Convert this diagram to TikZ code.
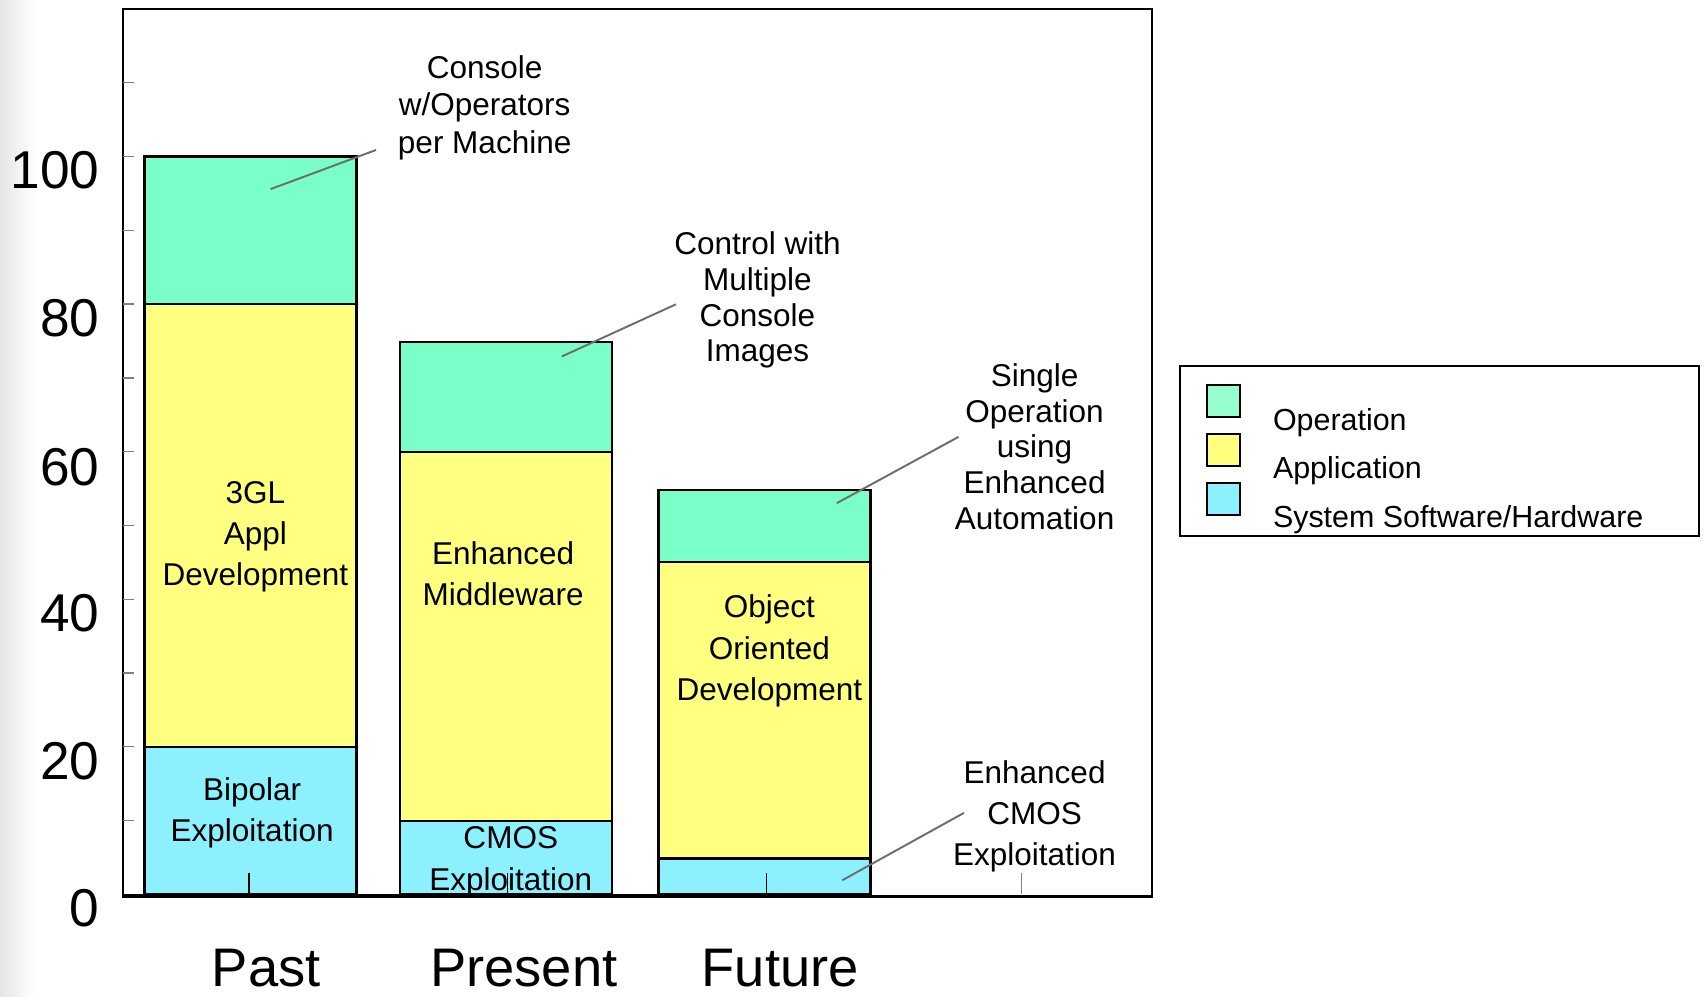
\documentclass[tikz,border=0pt]{standalone}
\usepackage{fontspec}
\setmainfont{Liberation Sans}
\definecolor{opgreen}{RGB}{122,255,200}
\definecolor{appyellow}{RGB}{255,255,128}
\definecolor{sysblue}{RGB}{140,240,255}
\definecolor{leggreen}{RGB}{150,255,205}
\definecolor{callgray}{RGB}{110,110,110}
\begin{document}
\begin{tikzpicture}[x=0.5pt,y=-0.5pt,
  barseg/.style={draw=black,line width=1pt},
  bartext/.style={font=\fontsize{14.5}{19}\selectfont,align=center},
  calltext/.style={font=\fontsize{14.5}{16.5}\selectfont,align=center},
  callline/.style={draw=callgray,line width=0.9pt},
  ylab/.style={font=\fontsize{24.5}{28}\selectfont,anchor=east,inner sep=0pt},
  catlab/.style={font=\fontsize{25}{28}\selectfont,inner sep=0pt},
  tickline/.style={draw=gray,line width=0.6pt},
  cattick/.style={draw=black,line width=0.6pt},
  legtext/.style={font=\fontsize{14}{16}\selectfont,anchor=west,inner sep=0pt},
  legsq/.style={draw=black,line width=0.9pt}]

\useasboundingbox (0,0) rectangle (1568,917);
\fill[white] (0,0) rectangle (1568,917);
\shade[left color=black!10, right color=white] (0,0) rectangle (32,917);

% ---- bars: Past
\fill[sysblue]   (133,823) rectangle (328,687.2);
\fill[appyellow] (133,687.2) rectangle (328,279.8);
\fill[opgreen]   (133,279.8) rectangle (328,144);
\draw[barseg] (133,823) rectangle (328,144);
\draw[barseg] (133,687.2) -- (328,687.2);
\draw[barseg] (133,279.8) -- (328,279.8);
% ---- bars: Present
\fill[sysblue]   (368,823) rectangle (563,755.1);
\fill[appyellow] (368,755.1) rectangle (563,415.6);
\fill[opgreen]   (368,415.6) rectangle (563,314.5);
\draw[barseg] (368,823) rectangle (563,314.5);
\draw[barseg] (368,755.1) -- (563,755.1);
\draw[barseg] (368,415.6) -- (563,415.6);
% ---- bars: Future
\fill[sysblue]   (606,823) rectangle (801,790);
\fill[appyellow] (606,790) rectangle (801,517.5);
\fill[opgreen]   (606,517.5) rectangle (801,451);
\draw[barseg] (606,823) rectangle (801,451);
\draw[barseg] (606,790) -- (801,790);
\draw[barseg] (606,517.5) -- (801,517.5);

% ---- frame and ticks
\draw[line width=1pt] (113,8) rectangle (1060,825);
\draw[line width=0.8pt] (113,823) -- (801,823);
\foreach \v in {10,20,...,110}
  \draw[tickline] (113,{823-6.79*\v}) -- (123,{823-6.79*\v});
\draw[cattick] (229,803) -- (229,823);
\draw[cattick] (467,803) -- (467,823);
\draw[cattick] (705,803) -- (705,823);
\draw[tickline] (940,803) -- (940,823);

% ---- y labels
\node[ylab] (y100) at (92,157) {100};
\node[ylab] (y80)  at (92,293) {80};
\node[ylab] (y60)  at (92,430) {60};
\node[ylab] (y40)  at (92,564) {40};
\node[ylab] (y20)  at (92,700) {20};
\node[ylab] (y0)   at (92,836) {0};

% ---- category labels
\node[catlab] (past)    at (245,891) {Past};
\node[catlab] (present) at (482,891) {Present};
\node[catlab] (future)  at (718,891) {Future};

% ---- bar texts
\node[bartext] (gl)   at (235,494) {3GL\\Appl\\Development};
\node[bartext] (bip)  at (232,748) {Bipolar\\Exploitation};
\node[bartext] (mid)  at (463,528) {Enhanced\\Middleware};
\node[bartext] (cmos) at (470,793) {CMOS\\Exploitation};
\node[bartext] (ood)  at (708,599) {Object\\Oriented\\Development};

% ---- callouts
\node[calltext,font=\fontsize{14.5}{17.3}\selectfont] (c1) at (446,99)  {Console\\w/Operators\\per Machine};
\node[calltext] (c2) at (697,276) {Control with\\Multiple\\Console\\Images};
\node[calltext] (c3) at (952,411) {Single\\Operation\\using\\Enhanced\\Automation};
\node[bartext]  (c4) at (952,751) {Enhanced\\CMOS\\Exploitation};

\coordinate (p1a) at (249,174); \coordinate (p1b) at (346,138);
\coordinate (p2a) at (517,328); \coordinate (p2b) at (622,280);
\coordinate (p3a) at (770,463); \coordinate (p3b) at (882,402);
\coordinate (p4a) at (775,810); \coordinate (p4b) at (887,748);
\draw[callline] (p1a) -- (p1b);
\draw[callline] (p2a) -- (p2b);
\draw[callline] (p3a) -- (p3b);
\draw[callline] (p4a) -- (p4b);

% ---- legend
\draw[line width=1pt] (1086,337) rectangle (1563,493);
\draw[legsq,fill=leggreen]  (1111,354) rectangle (1141,384);
\draw[legsq,fill=appyellow] (1111,399) rectangle (1141,429);
\draw[legsq,fill=sysblue]   (1111,444) rectangle (1141,474);
\node[legtext] (l1) at (1171,389) {Operation};
\node[legtext] (l2) at (1171,433) {Application};
\node[legtext] (l3) at (1171,478) {System Software/Hardware};
\end{tikzpicture}
\end{document}
